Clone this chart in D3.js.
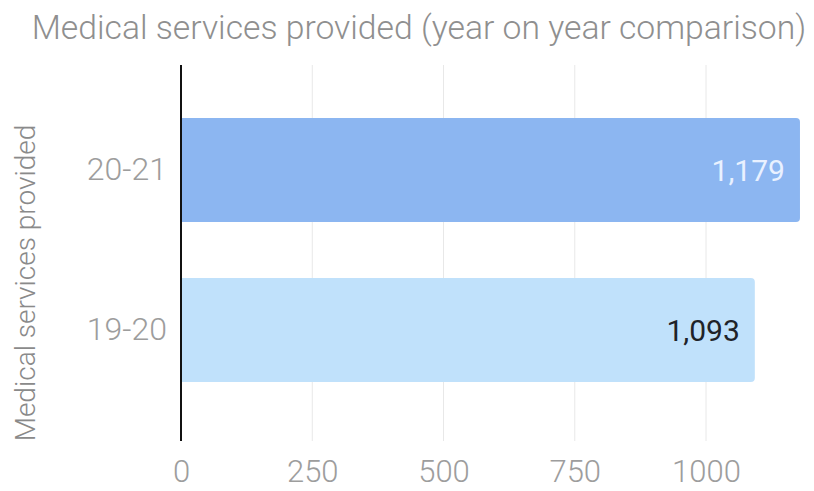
<!DOCTYPE html>
<html><head><meta charset="utf-8">
<script src="https://cdn.jsdelivr.net/npm/d3@7"></script>
<style>body{margin:0;background:#fff}svg{display:block}text{font-family:Roboto,"Noto Sans",sans-serif}</style>
</head><body>
<svg id="c" width="814" height="491"></svg>
<script>
const categories = ["20-21", "19-20"];
const values = [1179, 1093];
const tickValues = [0, 250, 500, 750, 1000];
const barColors = ["#8cb6f1", "#c0e1fb"];
const labelColors = ["#e9f1ff", "#1f2328"];

const svg = d3.select("#c");
const x = d3.scaleLinear().domain([0, 1000]).range([181, 706]);
const y = d3.scaleBand().domain(categories).range([62, 438]).paddingInner(0.35).paddingOuter(0.35);

// gridlines
svg.append("g").selectAll("line").data(tickValues.slice(1)).join("line")
  .attr("x1", d => x(d)).attr("x2", d => x(d)).attr("y1", 65).attr("y2", 441)
  .attr("stroke", "#e8e8e8").attr("stroke-width", 1);

// bars
const data = categories.map((c, i) => ({c, v: values[i], i}));
svg.append("g").selectAll("path").data(data).join("path")
  .attr("fill", d => barColors[d.i])
  .attr("d", d => {
    const x0 = x(0), x1 = x(d.v), y0 = y(d.c), h = y.bandwidth(), r = 4;
    return `M${x0},${y0}H${x1 - r}Q${x1},${y0} ${x1},${y0 + r}V${y0 + h - r}Q${x1},${y0 + h} ${x1 - r},${y0 + h}H${x0}Z`;
  });

// value labels
svg.append("g").selectAll("text").data(data).join("text")
  .attr("x", d => x(d.v) - 15).attr("y", d => y(d.c) + y.bandwidth() / 2)
  .attr("dy", "0.35em").attr("text-anchor", "end")
  .attr("font-size", 30).attr("fill", d => labelColors[d.i])
  .text(d => d3.format(",")(d.v));

// y axis line
svg.append("line").attr("x1", 181).attr("x2", 181).attr("y1", 65).attr("y2", 441)
  .attr("stroke", "#111").attr("stroke-width", 2);

// y category labels
const yAxis = svg.append("g").attr("transform", "translate(181,0)")
  .call(d3.axisLeft(y).tickSize(0).tickPadding(14));
yAxis.select(".domain").remove();
yAxis.selectAll("text").attr("font-size", 32).attr("fill", "#9d9d9d").attr("font-weight", 300);

// x axis labels
const xAxis = svg.append("g").attr("transform", "translate(0,441)")
  .call(d3.axisBottom(x).tickValues(tickValues).tickSize(0).tickPadding(19).tickFormat(d3.format("d")));
xAxis.select(".domain").remove();
xAxis.selectAll("text").attr("font-size", 31).attr("fill", "#9d9d9d").attr("font-weight", 300);

// title
svg.append("text").attr("x", 419).attr("y", 39).attr("text-anchor", "middle")
  .attr("font-size", 33.7).attr("font-weight", 300).attr("fill", "#8f8f8f")
  .text("Medical services provided (year on year comparison)");

// y axis title
svg.append("text").attr("transform", "translate(35,283) rotate(-90)").attr("text-anchor", "middle")
  .attr("font-size", 28).attr("font-weight", 300).attr("fill", "#8a8a8a")
  .text("Medical services provided");
</script>
</body></html>
